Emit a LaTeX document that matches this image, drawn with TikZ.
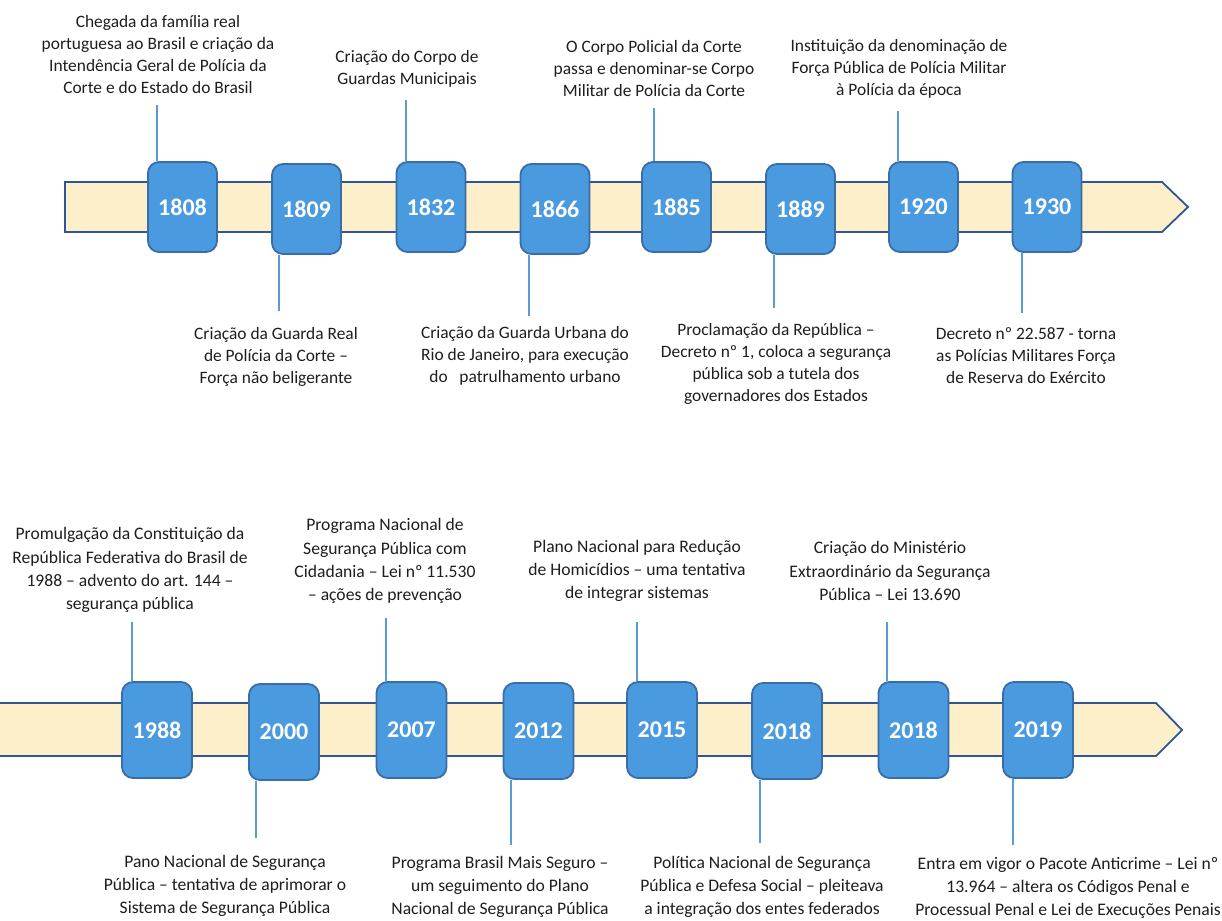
\documentclass[tikz,border=0pt]{standalone}
\usepackage{fontspec}
\setmainfont{Carlito}
\definecolor{bandfill}{HTML}{FCEFC9}
\definecolor{bandedge}{HTML}{2F5597}
\definecolor{boxfill}{HTML}{4A9ADF}
\definecolor{boxedge}{HTML}{3A6DA6}
\definecolor{linecol}{HTML}{5B9BD5}
\definecolor{txtcol}{HTML}{1E1E1E}
\pgfdeclarelayer{bg}
\pgfsetlayers{bg,main}
\begin{document}
\begin{tikzpicture}[x=1pt,y=-1pt,
  band/.style={draw=bandedge,fill=bandfill,line width=1.8pt,line join=miter},
  ybox/.style={rectangle,rounded corners=11pt,draw=boxedge,fill=boxfill,line width=1.8pt,
    minimum width=69pt,minimum height=90pt,inner sep=0pt,text=white,
    font=\fontsize{24}{24}\selectfont\bfseries},
  ybox2/.style={ybox,minimum width=70pt,minimum height=96pt},
  conn/.style={draw=linecol,line width=1.4pt},
  lbl/.style={align=center,inner sep=0pt,text=txtcol,font=\fontsize{17.4}{22}\selectfont},
  lbl2/.style={align=center,inner sep=0pt,text=txtcol,font=\fontsize{17.6}{23.2}\selectfont}]
\useasboundingbox (0,0) rectangle (1222,920);
\begin{pgfonlayer}{bg}
\fill[white] (0,0) rectangle (1222,920);
\end{pgfonlayer}

% ---------------- top timeline ----------------
\draw[band] (65,182) -- (1162,182) -- (1188,207) -- (1162,232) -- (65,232) -- cycle;

\coordinate (c1808) at (157,105);
\coordinate (c1832) at (406,100);
\coordinate (c1885) at (654,108);
\coordinate (c1920) at (898,111);
\coordinate (c1809) at (279,311);
\coordinate (c1866) at (529,316);
\coordinate (c1889) at (774,308);
\coordinate (c1930) at (1022,313);

\node[ybox] (b1808) at (182.5,207) {1808};
\node[ybox] (b1809) at (306.5,209) {1809};
\node[ybox] (b1832) at (431,207) {1832};
\node[ybox] (b1866) at (555,209) {1866};
\node[ybox] (b1885) at (676.5,207) {1885};
\node[ybox] (b1889) at (800.5,209) {1889};
\node[ybox] (b1920) at (923.5,207) {1920};
\node[ybox] (b1930) at (1047,207) {1930};

\begin{pgfonlayer}{bg}
\foreach \y in {1808,1832,1885,1920}
  \draw[conn] (c\y) -- (c\y |- b\y.north);
\foreach \y in {1809,1866,1889,1930}
  \draw[conn] (c\y) -- (c\y |- b\y.south);
\end{pgfonlayer}

\node[lbl] (t1808) at (158,55) {Chegada da família real\\portuguesa ao Brasil e criação da\\Intendência Geral de Polícia da\\Corte e do Estado do Brasil};
\node[lbl] (t1832) at (407,69) {Criação do Corpo de\\Guardas Municipais};
\node[lbl] (t1885) at (654,69) {O Corpo Policial da Corte\\passa e denominar-se Corpo\\Militar de Polícia da Corte};
\node[lbl] (t1920) at (899,69) {Instituição da denominação de\\Força Pública de Polícia Militar\\à Polícia da época};
\begin{scope}
\clip (0,0) rectangle (1222,387);
\node[lbl] (t1809) at (276,357) {Criação da Guarda Real\\de Polícia da Corte –\\Força não beligerante};
\end{scope}
\node[lbl] (t1866) at (525,356) {Criação da Guarda Urbana do\\Rio de Janeiro, para execução\\do\ \ \ patrulhamento urbano};
\node[lbl] (t1889) at (776,364) {Proclamação da República –\\Decreto nº 1, coloca a segurança\\pública sob a tutela dos\\governadores dos Estados};
\node[lbl] (t1930) at (1026,356) {Decreto nº 22.587 - torna\\as Polícias Militares Força\\de Reserva do Exército};

% ---------------- bottom timeline ----------------
\draw[band] (-5,703) -- (1156,703) -- (1182,730) -- (1156,756) -- (-5,756) -- cycle;

\coordinate (c1988) at (132,622);
\coordinate (c2007) at (386,618);
\coordinate (c2015) at (637,622);
\coordinate (c2018b) at (887,622);
\coordinate (c2000) at (256,838);
\coordinate (c2012) at (511,845);
\coordinate (c2018a) at (760,843);
\coordinate (c2019) at (1013,845);

\node[ybox2] (b1988) at (157,730) {1988};
\node[ybox2] (b2000) at (284,732) {2000};
\node[ybox2] (b2007) at (411.5,730) {2007};
\node[ybox2] (b2012) at (538.5,731) {2012};
\node[ybox2] (b2015) at (662,730) {2015};
\node[ybox2] (b2018a) at (787,731) {2018};
\node[ybox2] (b2018b) at (913.5,730) {2018};
\node[ybox2] (b2019) at (1038,730) {2019};

\begin{pgfonlayer}{bg}
\foreach \y in {1988,2007,2015,2018b}
  \draw[conn] (c\y) -- (c\y |- b\y.north);
\foreach \y in {2000,2012,2018a,2019}
  \draw[conn] (c\y) -- (c\y |- b\y.south);
\end{pgfonlayer}

\node[lbl2] (t1988) at (130,570) {Promulgação da Constituição da\\República Federativa do Brasil de\\1988 – advento do art. 144 –\\segurança pública};
\node[lbl2] (t2007) at (385,561) {Programa Nacional de\\Segurança Pública com\\Cidadania – Lei nº 11.530\\– ações de prevenção};
\node[lbl2] (t2015) at (637,571) {Plano Nacional para Redução\\de Homicídios – uma tentativa\\de integrar sistemas};
\node[lbl2] (t2018b) at (890,571) {Criação do Ministério\\Extraordinário da Segurança\\Pública – Lei 13.690};
\node[lbl2] (t2000) at (225,886) {Pano Nacional de Segurança\\Pública – tentativa de aprimorar o\\Sistema de Segurança Pública};
\node[lbl2] (t2012) at (500,887) {Programa Brasil Mais Seguro –\\um seguimento do Plano\\Nacional de Segurança Pública};
\node[lbl2] (t2018a) at (762,887) {Política Nacional de Segurança\\Pública e Defesa Social – pleiteava\\a integração dos entes federados};
\node[lbl2] (t2019) at (1068,888) {Entra em vigor o Pacote Anticrime – Lei nº\\13.964 – altera os Códigos Penal e\\Processual Penal e Lei de Execuções Penais};
\end{tikzpicture}
\end{document}
